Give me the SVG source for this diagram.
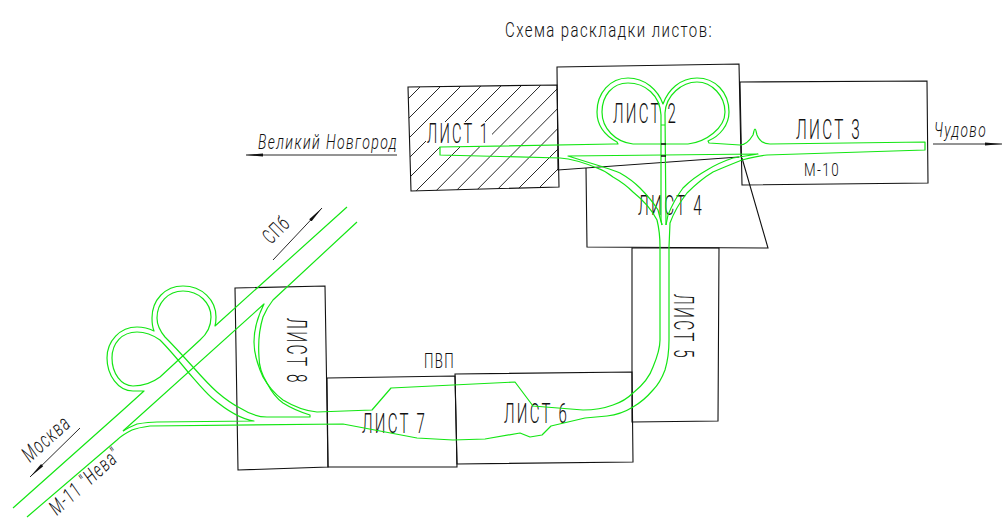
<svg xmlns="http://www.w3.org/2000/svg" width="1002" height="518" viewBox="0 0 1002 518">
<style>
.s{fill:none;stroke:#111;stroke-width:1.1}
.h{fill:none;stroke:#111;stroke-width:.9}
.r{fill:none;stroke:#14e614;stroke-width:1.2;stroke-linejoin:round}
.a{fill:none;stroke:#111;stroke-width:.9;marker-end:url(#ah)}
text{font-family:Roboto,"Liberation Sans",sans-serif;font-weight:300;fill:#111;letter-spacing:2px}
.t{font-size:27px;letter-spacing:4px}
.i{font-style:italic}
</style>
<defs>
<marker id="ah" markerUnits="userSpaceOnUse" markerWidth="18" markerHeight="6" refX="17" refY="3" orient="auto"><path d="M0,1.5L17,3L0,4.500Z" fill="#111"/></marker>
<clipPath id="c1"><path d="M408,87L557,85L559,187L411,191Z"/></clipPath>
</defs>
<rect width="1002" height="518" fill="#fff"/>
<g id="title"><text x="505" y="37" font-size="21" textLength="208" lengthAdjust="spacingAndGlyphs">Схема раскладки листов:</text></g>
<g id="sheet-1">
<path class="s" d="M408,87L557,85L559,187L411,191Z"/>
<g clip-path="url(#c1)"><path class="h" d="M420,87L380,127M440,87L380,147M461,86L380,167M481,86L380,187M501,86L380,207M521,86L400,207M541,85L420,207M561,85L440,207M581,85L460,207M601,85L480,207M622,85L500,207M642,85L520,207"/></g>
<rect x="426" y="122" width="66" height="25" fill="#fff"/>
<text class="t" x="427" y="143" textLength="63" lengthAdjust="spacingAndGlyphs">ЛИСТ 1</text>
</g>
<g id="sheet-2"><path class="s" d="M739,157L558,170L557,67L739,64L741,157"/><text class="t" x="613" y="123" textLength="65" lengthAdjust="spacingAndGlyphs">ЛИСТ 2</text></g>
<g id="sheet-3"><path class="s" d="M740,82L927,81L928,183L742,185Z"/><text class="t" x="796" y="139" textLength="66" lengthAdjust="spacingAndGlyphs">ЛИСТ 3</text><text x="804" y="176" font-size="19" textLength="36" lengthAdjust="spacingAndGlyphs">М-10</text></g>
<g id="sheet-4"><path class="s" d="M586,168L587,247L768,248L742,158"/><text class="t" x="638" y="215" textLength="66" lengthAdjust="spacingAndGlyphs">ЛИСТ 4</text></g>
<g id="sheet-5"><path class="s" d="M632,248L719,248L718,421L632,422Z"/><text class="t" transform="translate(674,294) rotate(90)" textLength="66" lengthAdjust="spacingAndGlyphs">ЛИСТ 5</text></g>
<g id="sheet-6"><path class="s" d="M455,374L632,372L633,462L457,464Z"/><text class="t" x="504" y="423" textLength="65" lengthAdjust="spacingAndGlyphs">ЛИСТ 6</text></g>
<g id="sheet-7"><path class="s" d="M327,378L455,376L457,467L328,467Z"/><text class="t" x="362" y="433" textLength="65" lengthAdjust="spacingAndGlyphs">ЛИСТ 7</text><text x="424" y="368" font-size="20" textLength="31" lengthAdjust="spacingAndGlyphs">ПВП</text></g>
<g id="sheet-8"><path class="s" d="M235,288L325,286L328,467L238,470Z"/><text class="t" transform="translate(287,318) rotate(90)" textLength="67" lengthAdjust="spacingAndGlyphs">ЛИСТ 8</text></g>
<g id="connectors">
<path class="r" d="M13,508L123,410L144,391L133,391C118,391 107,375 107,358C107,341 120,327 137,327C144,327 150,329 154,331C152,326 152,322 152,318C152,300 165,286 183,286C202,286 216,300 216,317C216,320 216,323 215,326L347,207"/>
<path class="r" d="M123,431C128,428 132,426 137,424C143,423 150,422 157,422L254,421C240,419 225,409 212,398C204,391 196,381 188,372C179,361 170,350 160,340C153,335 146,332 137,332C122,332 112,343 112,358C112,373 121,386 133,386C143,386 152,383 160,377L200,340C207,334 211,326 211,317C211,303 199,291 183,291C168,291 157,303 157,318C157,325 160,331 165,337C175,347 184,357 193,367C201,376 209,385 217,392C224,398 232,404 240,408C248,413 257,417 267,417L310,417L310,415C300,412 291,408 283,403C276,398 271,391 267,383C262,375 259,366 259,357C258,343 259,330 263,317C266,310 269,305 273,300L357,222"/>
<path class="r" d="M123,431L264,304C258,316 254,329 254,342C254,355 258,366 263,377C268,386 275,394 283,400C293,406 305,411 317,412L372,410L391,388L515,382L533,406L583,410C595,410 605,408 613,405C622,402 628,398 633,393C643,385 650,376 653,367C658,355 660,347 660,340L660,247C660,238 659,228 657,220C652,210 643,200 633,192C627,186 620,181 613,177C608,173 603,170 597,168C585,163 573,159 560,158L440,155L440,147L613,144L618,144L617,142C604,135 597,124 597,112C597,93 610,78 628,78C645,78 658,90 663,104C668,90 680,78 697,78C715,78 729,92 729,112C729,125 720,136 708,141L709,143L740,145C745,145 750,140 753,135C754,132 754,129 755,129C756,129 756,132 757,135C759,140 763,144 770,144L925,142L925,150L767,155C758,156 750,158 742,160C732,164 722,168 713,172C703,178 695,185 687,193C680,202 674,212 670,223L669,247L669,340C669,350 668,360 665,370C662,378 658,385 653,390C647,397 640,403 633,407C625,412 616,415 607,416L585,418L551,426L542,435L530,437L520,433L485,439L453,440L417,438L343,424L150,426C143,427 137,428 132,430C126,433 121,436 117,440L27,517"/>
<path class="r" d="M662,225C660,218 659,214 658,210C653,202 647,195 640,188C634,182 627,177 620,173C613,170 606,168 600,166L568,156L758,154L733,158C724,161 715,165 707,170C698,175 690,181 683,188C677,196 672,205 668,215L666,225"/>
<path class="r" d="M633,144C615,142 602,128 602,112C602,96 612,83 628,83C645,83 660,95 661,115L661,220L662,225"/>
<path class="r" d="M688,144C706,142 725,128 725,112C725,96 712,82 697,82C682,82 666,95 665,113L666,225"/>
<path class="r" d="M633,144L688,144M661,125L665,125"/>
<path fill="none" stroke="#111" stroke-width="1.5" d="M661,144L666,144M661,156L666,156"/>
</g>
<g id="labels">
<path class="a" d="M397,155L246,155"/>
<text class="i" x="258" y="149" font-size="20" textLength="140" lengthAdjust="spacingAndGlyphs">Великий Новгород</text>
<path class="a" d="M933,144L1002,144"/>
<text class="i" x="934" y="137" font-size="20" textLength="53" lengthAdjust="spacingAndGlyphs">Чудово</text>
<path class="a" d="M273,260L322,208"/>
<text transform="translate(271,245) rotate(-45)" font-size="21" textLength="29" lengthAdjust="spacingAndGlyphs">СПб</text>
<path class="a" d="M80,428L30,477"/>
<text class="i" transform="translate(30,463) rotate(-42)" font-size="22" textLength="57" lengthAdjust="spacingAndGlyphs">Москва</text>
<text class="i" transform="translate(57,516) rotate(-42)" font-size="21" textLength="88" lengthAdjust="spacingAndGlyphs">М-11 "Нева"</text>
</g>
</svg>
